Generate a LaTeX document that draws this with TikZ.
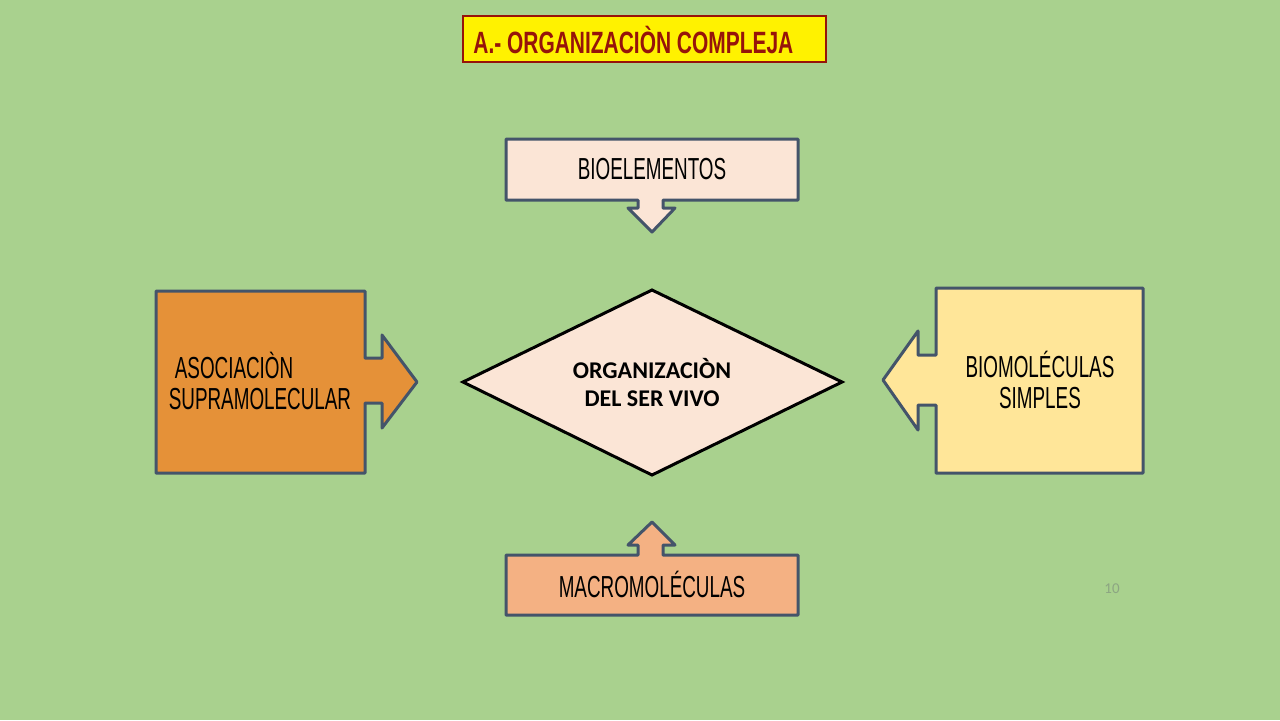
\documentclass[tikz,border=0pt]{standalone}
\usepackage{fontspec}
\newfontfamily\condfont[FakeStretch=0.62]{Liberation Sans}
\newfontfamily\condbold[FakeStretch=0.68]{Liberation Sans Bold}
\newfontfamily\carl{Carlito}
\definecolor{bggreen}{RGB}{169,209,142}
\definecolor{slate}{RGB}{68,84,106}
\definecolor{peach}{RGB}{251,229,214}
\definecolor{orangeA}{RGB}{229,145,56}
\definecolor{yellowB}{RGB}{255,230,153}
\definecolor{orangeC}{RGB}{244,177,131}
\definecolor{titlered}{RGB}{150,20,10}
\definecolor{pagegray}{RGB}{140,165,130}
\begin{document}
\begin{tikzpicture}[x=0.5pt,y=-0.5pt,
  callout/.style={draw=slate,line width=1.5pt,line join=round},
  condtext/.style={font=\condfont\fontsize{15.2}{15.5}\selectfont,text=black,inner sep=0pt,align=center},
  diamtext/.style={font=\carl\bfseries\fontsize{12}{14}\selectfont,text=black,inner sep=0pt,align=center}]
\useasboundingbox (0,0) rectangle (1280,720);
\fill[bggreen] (0,0) rectangle (1280,720);

% title
\draw[titlered,line width=1pt,fill=yellow] (463,16) rectangle (826,62);
\node[anchor=west,inner sep=0pt,text=titlered,font=\condbold\fontsize{15.4}{16}\selectfont] (title) at (473,40) {A.- ORGANIZACIÒN COMPLEJA};

% top callout
\draw[callout,fill=peach] (506,139) -- (798,139) -- (798,200) -- (663,200) -- (663,208) -- (675,208) -- (652,232) -- (628,208) -- (638,208) -- (638,200) -- (506,200) -- cycle;
\node[condtext] (bio) at (652,169) {BIOELEMENTOS};

% left callout
\draw[callout,fill=orangeA] (156,291) -- (365,291) -- (365,358) -- (382,358) -- (382,335) -- (417,382) -- (382,428) -- (382,403) -- (365,403) -- (365,473) -- (156,473) -- cycle;
\node[condtext,align=left] (asoc) at (260,381) {\hspace{3pt}ASOCIACIÒN\\SUPRAMOLECULAR};

% right callout
\draw[callout,fill=yellowB] (1143,288) -- (936,288) -- (936,355) -- (918,355) -- (918,331) -- (883,380) -- (918,430) -- (918,405) -- (936,405) -- (936,473) -- (1143,473) -- cycle;
\node[condtext] (biomol) at (1040,380) {BIOMOLÉCULAS\\SIMPLES};

% bottom callout
\draw[callout,fill=orangeC] (506,615) -- (798,615) -- (798,555) -- (663,555) -- (663,545) -- (675,545) -- (652,522) -- (628,545) -- (638,545) -- (638,555) -- (506,555) -- cycle;
\node[condtext] (macro) at (652,584) {MACROMOLÉCULAS};

% diamond
\draw[black,line width=1.5pt,line join=miter,fill=peach] (463,382) -- (652,290) -- (842,382) -- (652,475) -- cycle;
\node[diamtext] (org) at (652,382) {ORGANIZACIÒN\\DEL SER VIVO};

% page number
\node[text=pagegray,inner sep=0pt,font=\carl\fontsize{7.5}{8}\selectfont] (pg) at (1112,589) {10};
\end{tikzpicture}
\end{document}
